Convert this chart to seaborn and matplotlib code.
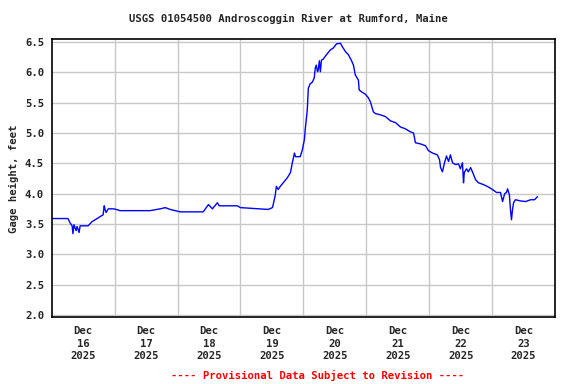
#!/usr/bin/env python3
"""USGS 01054500 Androscoggin River at Rumford, Maine - gage height plot"""

import pandas as pd
import matplotlib
matplotlib.use('Agg')
import matplotlib.pyplot as plt
import seaborn as sns

# hours since Dec 16 2025 00:00
hours = [0, 6.2, 7.0, 7.8, 8.1, 8.5, 8.9, 9.3, 9.7, 10.45, 10.85, 13.9, 15.4, 16.6,
         18.4, 19.6, 20.05, 20.35, 20.75, 21.6, 23.5, 24.6, 26.1, 29.95, 33.8, 37.5,
         41.4, 43.3, 45.2, 47.1, 49.05, 57.8, 59.8, 61.3, 63.2, 63.9, 70.8, 72.0,
         82.6, 84.2, 84.5, 85.3, 85.7, 86.4, 87.2, 88.7, 89.85, 91.1, 91.8, 92.6,
         93.0, 94.8, 95.6, 96.4, 96.7, 97.5, 97.9, 98.6, 99.45, 100.15, 100.55, 100.95,
         101.4, 101.7, 102.1, 102.5, 102.9, 103.6, 104.8, 106.3, 107.4, 108.65,
         110.15, 110.9, 112.1, 113.2, 114.3, 115.1, 115.8, 117.0, 117.3, 118.15,
         119.65, 120.8, 121.6, 122.7, 123.5, 125.4, 127.35, 129.25, 131.2, 133.0,
         134.9, 136.8, 138.05, 138.75, 140.7, 142.6, 143.7, 145.2, 147.1, 147.95,
         148.35, 149.05, 149.85, 150.6, 151.4, 152.1, 152.9, 154.0, 155.2, 155.9,
         156.7, 157.1, 157.4, 158.25, 158.95, 159.8, 160.6, 161.7, 162.8, 164.7,
         166.6, 168.1, 169.7, 171.2, 172.0, 172.8, 173.5, 173.9, 174.6, 175.0,
         175.4, 175.8, 176.2, 176.9, 178.85, 180.8, 182.7, 184.2, 185.3]

gage_ft = [3.59, 3.59, 3.52, 3.47, 3.34, 3.49, 3.44, 3.39, 3.46, 3.36, 3.47, 3.47,
           3.54, 3.57, 3.62, 3.65, 3.80, 3.74, 3.69, 3.75, 3.75, 3.74, 3.72, 3.72,
           3.72, 3.72, 3.75, 3.77, 3.74, 3.72, 3.70, 3.70, 3.82, 3.75, 3.85, 3.80,
           3.80, 3.77, 3.74, 3.77, 3.82, 3.98, 4.12, 4.07, 4.12, 4.20, 4.26, 4.35,
           4.51, 4.67, 4.61, 4.61, 4.72, 4.89, 5.05, 5.38, 5.74, 5.81, 5.84, 5.91,
           6.07, 6.12, 6.01, 6.04, 6.19, 6.01, 6.20, 6.22, 6.29, 6.37, 6.40, 6.47,
           6.48, 6.42, 6.34, 6.29, 6.20, 6.12, 5.96, 5.87, 5.71, 5.68, 5.64, 5.58,
           5.51, 5.35, 5.32, 5.30, 5.27, 5.20, 5.17, 5.10, 5.07, 5.02, 5.00, 4.84,
           4.82, 4.79, 4.71, 4.67, 4.64, 4.56, 4.43, 4.36, 4.51, 4.62, 4.53, 4.64,
           4.51, 4.48, 4.49, 4.41, 4.51, 4.18, 4.35, 4.41, 4.36, 4.43, 4.35, 4.23,
           4.18, 4.15, 4.11, 4.07, 4.02, 4.02, 3.87, 4.00, 4.02, 4.08, 3.98, 3.74,
           3.57, 3.74, 3.85, 3.90, 3.88, 3.87, 3.90, 3.90, 3.95]

day_labels = ['Dec\n16\n2025', 'Dec\n17\n2025', 'Dec\n18\n2025', 'Dec\n19\n2025',
              'Dec\n20\n2025', 'Dec\n21\n2025', 'Dec\n22\n2025', 'Dec\n23\n2025']
y_ticks = [2.0, 2.5, 3.0, 3.5, 4.0, 4.5, 5.0, 5.5, 6.0, 6.5]

sns.set_style("white")
plt.rcParams['font.family'] = ['DejaVu Sans Mono']
plt.rcParams['font.weight'] = 'bold'
FS = 7.7

df = pd.DataFrame({'hours': hours, 'gage': gage_ft})

fig = plt.figure(figsize=(5.76, 3.84), dpi=100)
ax = fig.add_axes([51.7 / 576, 1 - 317.4 / 384, (555 - 51.7) / 576, (317.4 - 39.3) / 384])

sns.lineplot(data=df, x='hours', y='gage', ax=ax, color='#0000ff', linewidth=1.0)

ax.set_xlim(0, 192)
ax.set_ylim(1.96, 6.545)

# gridlines at midnight, labels at noon
ax.set_xticks([24 * i for i in range(1, 8)], minor=True)
ax.set_xticks([12 + 24 * i for i in range(8)])
ax.set_xticklabels(day_labels, fontsize=FS, fontweight='bold', linespacing=1.35)
ax.set_yticks(y_ticks)
ax.set_yticklabels([f'{v:.1f}' for v in y_ticks], fontsize=FS, fontweight='bold')
ax.grid(True, which='minor', axis='x', color='#c8c8c8', linewidth=1.0)
ax.grid(True, which='major', axis='y', color='#c8c8c8', linewidth=1.0)
ax.grid(False, which='major', axis='x')
ax.tick_params(axis='both', which='both', length=0)
ax.tick_params(axis='y', pad=5.5)
ax.tick_params(axis='x', pad=6)

for s in ax.spines.values():
    s.set_visible(True)
    s.set_color('black')
    s.set_linewidth(1.2)

ax.set_xlabel('')
ax.set_ylabel('Gage height, feet', fontsize=FS, fontweight='bold', labelpad=4)

fig.text(0.5, 1 - 19 / 384, 'USGS 01054500 Androscoggin River at Rumford, Maine',
         ha='center', va='center', fontsize=FS, fontweight='bold')
fig.text(318 / 576, 1 - 375 / 384, '---- Provisional Data Subject to Revision ----',
         ha='center', va='center', fontsize=FS, fontweight='bold', color='#ff0000')

plt.savefig('out.png', dpi=100)
plt.close()
